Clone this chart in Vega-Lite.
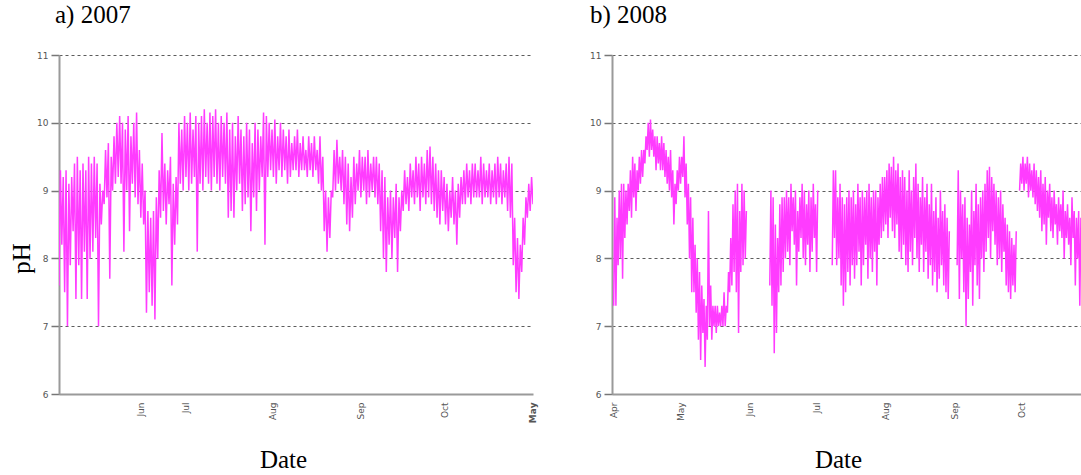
{
"$schema":"https://vega.github.io/schema/vega-lite/v6.json",
"background":"white",
"padding":{"left":9,"top":3,"right":0,"bottom":0},
"spacing":79,
"bounds":"flush",
"config":{
 "view":{"stroke":null},
 "axis":{"labelFont":"DejaVu Sans","labelFontSize":9,"labelColor":"#555","domainColor":"#9a9a9a","domainWidth":2,"tickColor":"#777","tickWidth":1.5,"titleFont":"Liberation Serif","titleFontSize":25,"titleFontWeight":"normal","titleColor":"#000"},
 "title":{"font":"Liberation Serif","fontSize":25,"fontWeight":"normal","anchor":"start","color":"#000"}
},
"hconcat":[
{
 "title":{"text":"a) 2007","frame":"group","dx":-4,"offset":23},
 "width":474,"height":339,
 "data":{"format":{"parse":{"t":"date:'%Y-%m-%d %H'"}},"values":[
{"t":"2007-05-17 06","v":7.6},{"t":"2007-05-17 18","v":9.3},
{"t":"2007-05-18 06","v":8.2},{"t":"2007-05-18 18","v":9.2},
{"t":"2007-05-19 06","v":7.5},{"t":"2007-05-19 18","v":9.3},
{"t":"2007-05-20 06","v":7.0},{"t":"2007-05-20 18","v":9.1},
{"t":"2007-05-21 06","v":7.9},{"t":"2007-05-21 18","v":9.2},
{"t":"2007-05-22 06","v":8.4},{"t":"2007-05-22 18","v":9.4},
{"t":"2007-05-23 06","v":7.4},{"t":"2007-05-23 18","v":9.5},
{"t":"2007-05-24 06","v":7.9},{"t":"2007-05-24 18","v":9.3},
{"t":"2007-05-25 06","v":7.4},{"t":"2007-05-25 18","v":9.4},
{"t":"2007-05-26 06","v":8.1},{"t":"2007-05-26 18","v":9.3},
{"t":"2007-05-27 06","v":7.4},{"t":"2007-05-27 18","v":9.5},
{"t":"2007-05-28 06","v":8.0},{"t":"2007-05-28 18","v":9.4},
{"t":"2007-05-29 06","v":8.1},{"t":"2007-05-29 18","v":9.5},
{"t":"2007-05-30 06","v":8.3},{"t":"2007-05-30 18","v":9.4},
{"t":"2007-05-31 06","v":7.0},{"t":"2007-05-31 18","v":9.1},
{"t":"2007-06-01 06","v":8.5},{"t":"2007-06-01 18","v":9.0},
{"t":"2007-06-02 06","v":8.8},{"t":"2007-06-02 18","v":9.6},
{"t":"2007-06-03 06","v":8.9},{"t":"2007-06-03 18","v":9.7},
{"t":"2007-06-04 06","v":7.7},{"t":"2007-06-04 18","v":9.5},
{"t":"2007-06-05 06","v":9.0},{"t":"2007-06-05 18","v":9.8},
{"t":"2007-06-06 06","v":9.1},{"t":"2007-06-06 18","v":10.0},
{"t":"2007-06-07 06","v":9.2},{"t":"2007-06-07 18","v":10.1},
{"t":"2007-06-08 06","v":9.1},{"t":"2007-06-08 18","v":10.0},
{"t":"2007-06-09 06","v":8.1},{"t":"2007-06-09 18","v":9.9},
{"t":"2007-06-10 06","v":9.0},{"t":"2007-06-10 18","v":10.1},
{"t":"2007-06-11 06","v":8.4},{"t":"2007-06-11 18","v":9.8},
{"t":"2007-06-12 06","v":9.1},{"t":"2007-06-12 18","v":10.0},
{"t":"2007-06-13 06","v":8.9},{"t":"2007-06-13 18","v":10.15},
{"t":"2007-06-14 06","v":8.8},{"t":"2007-06-14 18","v":9.6},
{"t":"2007-06-15 06","v":8.6},{"t":"2007-06-15 18","v":9.4},
{"t":"2007-06-16 06","v":8.5},{"t":"2007-06-16 18","v":9.0},
{"t":"2007-06-17 06","v":7.2},{"t":"2007-06-17 18","v":8.7},
{"t":"2007-06-18 06","v":7.5},{"t":"2007-06-18 18","v":8.6},
{"t":"2007-06-19 06","v":7.3},{"t":"2007-06-19 18","v":8.7},
{"t":"2007-06-20 06","v":7.1},{"t":"2007-06-20 18","v":8.9},
{"t":"2007-06-21 06","v":8.0},{"t":"2007-06-21 18","v":9.3},
{"t":"2007-06-22 06","v":8.6},{"t":"2007-06-22 18","v":9.85},
{"t":"2007-06-23 06","v":8.7},{"t":"2007-06-23 18","v":9.4},
{"t":"2007-06-24 06","v":8.5},{"t":"2007-06-24 18","v":9.3},
{"t":"2007-06-25 06","v":8.8},{"t":"2007-06-25 18","v":9.5},
{"t":"2007-06-26 06","v":7.6},{"t":"2007-06-26 18","v":9.1},
{"t":"2007-06-27 06","v":8.2},{"t":"2007-06-27 18","v":9.2},
{"t":"2007-06-28 06","v":8.5},{"t":"2007-06-28 18","v":10.0},
{"t":"2007-06-29 06","v":9.1},{"t":"2007-06-29 18","v":9.9},
{"t":"2007-06-30 06","v":9.0},{"t":"2007-06-30 18","v":10.1},
{"t":"2007-07-01 06","v":9.2},{"t":"2007-07-01 18","v":10.0},
{"t":"2007-07-02 06","v":9.0},{"t":"2007-07-02 18","v":10.15},
{"t":"2007-07-03 06","v":9.1},{"t":"2007-07-03 18","v":9.9},
{"t":"2007-07-04 06","v":9.2},{"t":"2007-07-04 18","v":10.1},
{"t":"2007-07-05 06","v":8.1},{"t":"2007-07-05 18","v":10.0},
{"t":"2007-07-06 06","v":9.1},{"t":"2007-07-06 18","v":10.1},
{"t":"2007-07-07 06","v":9.0},{"t":"2007-07-07 18","v":10.2},
{"t":"2007-07-08 06","v":9.2},{"t":"2007-07-08 18","v":10.0},
{"t":"2007-07-09 06","v":9.1},{"t":"2007-07-09 18","v":10.15},
{"t":"2007-07-10 06","v":9.0},{"t":"2007-07-10 18","v":10.1},
{"t":"2007-07-11 06","v":9.2},{"t":"2007-07-11 18","v":10.2},
{"t":"2007-07-12 06","v":9.1},{"t":"2007-07-12 18","v":10.0},
{"t":"2007-07-13 06","v":9.0},{"t":"2007-07-13 18","v":10.1},
{"t":"2007-07-14 06","v":9.2},{"t":"2007-07-14 18","v":10.0},
{"t":"2007-07-15 06","v":9.1},{"t":"2007-07-15 18","v":10.15},
{"t":"2007-07-16 06","v":8.6},{"t":"2007-07-16 18","v":9.9},
{"t":"2007-07-17 06","v":8.7},{"t":"2007-07-17 18","v":10.0},
{"t":"2007-07-18 06","v":8.6},{"t":"2007-07-18 18","v":9.8},
{"t":"2007-07-19 06","v":9.0},{"t":"2007-07-19 18","v":10.1},
{"t":"2007-07-20 06","v":9.1},{"t":"2007-07-20 18","v":9.9},
{"t":"2007-07-21 06","v":8.7},{"t":"2007-07-21 18","v":9.8},
{"t":"2007-07-22 06","v":8.8},{"t":"2007-07-22 18","v":10.0},
{"t":"2007-07-23 06","v":8.9},{"t":"2007-07-23 18","v":9.9},
{"t":"2007-07-24 06","v":8.4},{"t":"2007-07-24 18","v":9.7},
{"t":"2007-07-25 06","v":8.9},{"t":"2007-07-25 18","v":10.0},
{"t":"2007-07-26 06","v":8.7},{"t":"2007-07-26 18","v":9.9},
{"t":"2007-07-27 06","v":9.0},{"t":"2007-07-27 18","v":9.8},
{"t":"2007-07-28 06","v":9.2},{"t":"2007-07-28 18","v":10.15},
{"t":"2007-07-29 06","v":8.2},{"t":"2007-07-29 18","v":10.1},
{"t":"2007-07-30 06","v":9.2},{"t":"2007-07-30 18","v":10.0},
{"t":"2007-07-31 06","v":9.3},{"t":"2007-07-31 18","v":9.9},
{"t":"2007-08-01 06","v":9.2},{"t":"2007-08-01 18","v":10.05},
{"t":"2007-08-02 06","v":9.1},{"t":"2007-08-02 18","v":9.8},
{"t":"2007-08-03 06","v":9.3},{"t":"2007-08-03 18","v":10.0},
{"t":"2007-08-04 06","v":9.2},{"t":"2007-08-04 18","v":9.9},
{"t":"2007-08-05 06","v":9.3},{"t":"2007-08-05 18","v":9.8},
{"t":"2007-08-06 06","v":9.1},{"t":"2007-08-06 18","v":9.9},
{"t":"2007-08-07 06","v":9.2},{"t":"2007-08-07 18","v":9.7},
{"t":"2007-08-08 06","v":9.3},{"t":"2007-08-08 18","v":9.8},
{"t":"2007-08-09 06","v":9.3},{"t":"2007-08-09 18","v":9.9},
{"t":"2007-08-10 06","v":9.2},{"t":"2007-08-10 18","v":9.7},
{"t":"2007-08-11 06","v":9.3},{"t":"2007-08-11 18","v":9.8},
{"t":"2007-08-12 06","v":9.3},{"t":"2007-08-12 18","v":9.6},
{"t":"2007-08-13 06","v":9.2},{"t":"2007-08-13 18","v":9.8},
{"t":"2007-08-14 06","v":9.3},{"t":"2007-08-14 18","v":9.7},
{"t":"2007-08-15 06","v":9.2},{"t":"2007-08-15 18","v":9.8},
{"t":"2007-08-16 06","v":9.3},{"t":"2007-08-16 18","v":9.6},
{"t":"2007-08-17 06","v":9.1},{"t":"2007-08-17 18","v":9.8},
{"t":"2007-08-18 06","v":9.0},{"t":"2007-08-18 18","v":9.5},
{"t":"2007-08-19 06","v":8.4},{"t":"2007-08-19 18","v":9.0},
{"t":"2007-08-20 06","v":8.1},{"t":"2007-08-20 18","v":8.9},
{"t":"2007-08-21 06","v":8.3},{"t":"2007-08-21 18","v":9.0},
{"t":"2007-08-22 06","v":8.9},{"t":"2007-08-22 18","v":9.6},
{"t":"2007-08-23 06","v":9.0},{"t":"2007-08-23 18","v":9.75},
{"t":"2007-08-24 06","v":9.1},{"t":"2007-08-24 18","v":9.5},
{"t":"2007-08-25 06","v":9.0},{"t":"2007-08-25 18","v":9.6},
{"t":"2007-08-26 06","v":8.8},{"t":"2007-08-26 18","v":9.5},
{"t":"2007-08-27 06","v":8.5},{"t":"2007-08-27 18","v":9.4},
{"t":"2007-08-28 06","v":8.4},{"t":"2007-08-28 18","v":9.2},
{"t":"2007-08-29 06","v":8.6},{"t":"2007-08-29 18","v":9.5},
{"t":"2007-08-30 06","v":8.8},{"t":"2007-08-30 18","v":9.4},
{"t":"2007-08-31 06","v":9.0},{"t":"2007-08-31 18","v":9.6},
{"t":"2007-09-01 06","v":8.9},{"t":"2007-09-01 18","v":9.5},
{"t":"2007-09-02 06","v":9.0},{"t":"2007-09-02 18","v":9.5},
{"t":"2007-09-03 06","v":8.8},{"t":"2007-09-03 18","v":9.6},
{"t":"2007-09-04 06","v":8.9},{"t":"2007-09-04 18","v":9.4},
{"t":"2007-09-05 06","v":9.0},{"t":"2007-09-05 18","v":9.5},
{"t":"2007-09-06 06","v":8.9},{"t":"2007-09-06 18","v":9.5},
{"t":"2007-09-07 06","v":8.8},{"t":"2007-09-07 18","v":9.4},
{"t":"2007-09-08 06","v":8.4},{"t":"2007-09-08 18","v":9.3},
{"t":"2007-09-09 06","v":8.0},{"t":"2007-09-09 18","v":9.2},
{"t":"2007-09-10 06","v":7.8},{"t":"2007-09-10 18","v":8.9},
{"t":"2007-09-11 06","v":8.2},{"t":"2007-09-11 18","v":9.0},
{"t":"2007-09-12 06","v":8.0},{"t":"2007-09-12 18","v":8.9},
{"t":"2007-09-13 06","v":8.3},{"t":"2007-09-13 18","v":9.1},
{"t":"2007-09-14 06","v":7.8},{"t":"2007-09-14 18","v":8.9},
{"t":"2007-09-15 06","v":8.4},{"t":"2007-09-15 18","v":9.0},
{"t":"2007-09-16 06","v":8.7},{"t":"2007-09-16 18","v":9.3},
{"t":"2007-09-17 06","v":8.8},{"t":"2007-09-17 18","v":9.2},
{"t":"2007-09-18 06","v":8.7},{"t":"2007-09-18 18","v":9.4},
{"t":"2007-09-19 06","v":8.9},{"t":"2007-09-19 18","v":9.3},
{"t":"2007-09-20 06","v":8.8},{"t":"2007-09-20 18","v":9.5},
{"t":"2007-09-21 06","v":8.9},{"t":"2007-09-21 18","v":9.4},
{"t":"2007-09-22 06","v":8.7},{"t":"2007-09-22 18","v":9.5},
{"t":"2007-09-23 06","v":8.9},{"t":"2007-09-23 18","v":9.4},
{"t":"2007-09-24 06","v":8.8},{"t":"2007-09-24 18","v":9.6},
{"t":"2007-09-25 06","v":8.9},{"t":"2007-09-25 18","v":9.65},
{"t":"2007-09-26 06","v":8.8},{"t":"2007-09-26 18","v":9.5},
{"t":"2007-09-27 06","v":8.7},{"t":"2007-09-27 18","v":9.4},
{"t":"2007-09-28 06","v":8.6},{"t":"2007-09-28 18","v":9.3},
{"t":"2007-09-29 06","v":8.5},{"t":"2007-09-29 18","v":9.3},
{"t":"2007-09-30 06","v":8.7},{"t":"2007-09-30 18","v":9.2},
{"t":"2007-10-01 06","v":8.5},{"t":"2007-10-01 18","v":9.1},
{"t":"2007-10-02 06","v":8.4},{"t":"2007-10-02 18","v":9.0},
{"t":"2007-10-03 06","v":8.6},{"t":"2007-10-03 18","v":9.2},
{"t":"2007-10-04 06","v":8.5},{"t":"2007-10-04 18","v":9.0},
{"t":"2007-10-05 06","v":8.2},{"t":"2007-10-05 18","v":9.1},
{"t":"2007-10-06 06","v":8.6},{"t":"2007-10-06 18","v":9.2},
{"t":"2007-10-07 06","v":8.8},{"t":"2007-10-07 18","v":9.3},
{"t":"2007-10-08 06","v":8.8},{"t":"2007-10-08 18","v":9.4},
{"t":"2007-10-09 06","v":8.9},{"t":"2007-10-09 18","v":9.3},
{"t":"2007-10-10 06","v":8.8},{"t":"2007-10-10 18","v":9.4},
{"t":"2007-10-11 06","v":8.9},{"t":"2007-10-11 18","v":9.4},
{"t":"2007-10-12 06","v":8.9},{"t":"2007-10-12 18","v":9.3},
{"t":"2007-10-13 06","v":8.9},{"t":"2007-10-13 18","v":9.5},
{"t":"2007-10-14 06","v":8.8},{"t":"2007-10-14 18","v":9.4},
{"t":"2007-10-15 06","v":8.9},{"t":"2007-10-15 18","v":9.3},
{"t":"2007-10-16 06","v":8.9},{"t":"2007-10-16 18","v":9.4},
{"t":"2007-10-17 06","v":8.8},{"t":"2007-10-17 18","v":9.3},
{"t":"2007-10-18 06","v":8.9},{"t":"2007-10-18 18","v":9.4},
{"t":"2007-10-19 06","v":8.8},{"t":"2007-10-19 18","v":9.5},
{"t":"2007-10-20 06","v":8.9},{"t":"2007-10-20 18","v":9.4},
{"t":"2007-10-21 06","v":8.8},{"t":"2007-10-21 18","v":9.3},
{"t":"2007-10-22 06","v":8.9},{"t":"2007-10-22 18","v":9.4},
{"t":"2007-10-23 06","v":8.7},{"t":"2007-10-23 18","v":9.5},
{"t":"2007-10-24 06","v":8.6},{"t":"2007-10-24 18","v":9.4},
{"t":"2007-10-25 06","v":7.9},{"t":"2007-10-25 18","v":8.6},
{"t":"2007-10-26 06","v":7.5},{"t":"2007-10-26 18","v":8.3},
{"t":"2007-10-27 06","v":7.4},{"t":"2007-10-27 18","v":8.2},
{"t":"2007-10-28 06","v":7.8},{"t":"2007-10-28 18","v":8.6},
{"t":"2007-10-29 06","v":8.2},{"t":"2007-10-29 18","v":8.9},
{"t":"2007-10-30 06","v":8.6},{"t":"2007-10-30 18","v":9.1},
{"t":"2007-10-31 06","v":8.7},{"t":"2007-10-31 18","v":9.2},
{"t":"2007-11-01 06","v":8.8}
 ]},
 "mark":{"type":"line","stroke":"#ff3cff","strokeWidth":1.5,"invalid":"break-paths-filter-domains","clip":true},
 "encoding":{
  "x":{"field":"t","type":"temporal",
   "scale":{"domain":[{"year":2007,"month":5,"date":17,"hours":6},{"year":2007,"month":11,"date":1,"hours":6}]},
   "axis":{"title":"Date","grid":false,"ticks":false,"labelAngle":270,"labelPadding":8,"format":"%b",
    "values":[{"year":2007,"month":6,"date":15},{"year":2007,"month":7,"date":1},{"year":2007,"month":8,"date":1},{"year":2007,"month":9,"date":1},{"year":2007,"month":10,"date":1},{"year":2007,"month":11,"date":1}],
    "labelExpr":"month(datum.value) == 10 ? 'May' : datum.label",
    "labelFontWeight":{"condition":{"test":"month(datum.value) == 10","value":"bold"},"value":"normal"},
    "labelOverlap":false,"labelBound":false,
    "titleX":224,"titleY":65,"titleBaseline":"middle","titleAnchor":"middle"}},
  "y":{"field":"v","type":"quantitative","scale":{"domain":[6,11]},
   "axis":{"title":"pH","values":[6,7,8,9,10,11],"format":"d","grid":true,"gridDash":[3,3],"gridColor":"#333","gridOpacity":0.8,"tickSize":8,"labelPadding":3,
    "titleX":-38,"titleY":203,"titleBaseline":"middle","titleAngle":270}}
 }
},
{
 "title":{"text":"b) 2008","frame":"group","dx":-22,"offset":23},
 "width":469,"height":339,
 "data":{"format":{"parse":{"t":"date:'%Y-%m-%d %H'"}},"values":[
{"t":"2008-04-01 06","v":7.3},{"t":"2008-04-01 18","v":8.9},
{"t":"2008-04-02 06","v":7.3},{"t":"2008-04-02 18","v":8.6},
{"t":"2008-04-03 06","v":7.9},{"t":"2008-04-03 18","v":9.0},
{"t":"2008-04-04 06","v":8.0},{"t":"2008-04-04 18","v":9.1},
{"t":"2008-04-05 06","v":7.7},{"t":"2008-04-05 18","v":9.1},
{"t":"2008-04-06 06","v":8.3},{"t":"2008-04-06 18","v":9.0},
{"t":"2008-04-07 06","v":8.5},{"t":"2008-04-07 18","v":9.1},
{"t":"2008-04-08 06","v":8.7},{"t":"2008-04-08 18","v":9.3},
{"t":"2008-04-09 06","v":8.6},{"t":"2008-04-09 18","v":9.5},
{"t":"2008-04-10 06","v":8.9},{"t":"2008-04-10 18","v":9.4},
{"t":"2008-04-11 06","v":8.7},{"t":"2008-04-11 18","v":9.3},
{"t":"2008-04-12 06","v":9.0},{"t":"2008-04-12 18","v":9.5},
{"t":"2008-04-13 06","v":9.1},{"t":"2008-04-13 18","v":9.6},
{"t":"2008-04-14 06","v":9.2},{"t":"2008-04-14 18","v":9.6},
{"t":"2008-04-15 06","v":9.4},{"t":"2008-04-15 18","v":9.8},
{"t":"2008-04-16 06","v":9.6},{"t":"2008-04-16 18","v":10.0},
{"t":"2008-04-17 06","v":9.5},{"t":"2008-04-17 18","v":10.05},
{"t":"2008-04-18 06","v":9.6},{"t":"2008-04-18 18","v":9.9},
{"t":"2008-04-19 06","v":9.5},{"t":"2008-04-19 18","v":9.8},
{"t":"2008-04-20 06","v":9.3},{"t":"2008-04-20 18","v":9.8},
{"t":"2008-04-21 06","v":9.4},{"t":"2008-04-21 18","v":9.7},
{"t":"2008-04-22 06","v":9.3},{"t":"2008-04-22 18","v":9.8},
{"t":"2008-04-23 06","v":9.3},{"t":"2008-04-23 18","v":9.7},
{"t":"2008-04-24 06","v":9.2},{"t":"2008-04-24 18","v":9.6},
{"t":"2008-04-25 06","v":9.1},{"t":"2008-04-25 18","v":9.5},
{"t":"2008-04-26 06","v":9.0},{"t":"2008-04-26 18","v":9.6},
{"t":"2008-04-27 06","v":8.9},{"t":"2008-04-27 18","v":9.3},
{"t":"2008-04-28 06","v":8.5},{"t":"2008-04-28 18","v":9.1},
{"t":"2008-04-29 06","v":8.8},{"t":"2008-04-29 18","v":9.3},
{"t":"2008-04-30 06","v":9.0},{"t":"2008-04-30 18","v":9.5},
{"t":"2008-05-01 06","v":9.1},{"t":"2008-05-01 18","v":9.5},
{"t":"2008-05-02 06","v":9.2},{"t":"2008-05-02 18","v":9.8},
{"t":"2008-05-03 06","v":8.9},{"t":"2008-05-03 18","v":9.4},
{"t":"2008-05-04 06","v":8.5},{"t":"2008-05-04 18","v":9.1},
{"t":"2008-05-05 06","v":8.0},{"t":"2008-05-05 18","v":8.9},
{"t":"2008-05-06 06","v":7.5},{"t":"2008-05-06 18","v":8.6},
{"t":"2008-05-07 06","v":7.5},{"t":"2008-05-07 18","v":8.2},
{"t":"2008-05-08 06","v":7.2},{"t":"2008-05-08 18","v":8.0},
{"t":"2008-05-09 06","v":6.8},{"t":"2008-05-09 18","v":7.8},
{"t":"2008-05-10 06","v":6.5},{"t":"2008-05-10 18","v":7.6},
{"t":"2008-05-11 06","v":6.9},{"t":"2008-05-11 18","v":7.4},
{"t":"2008-05-12 06","v":6.4},{"t":"2008-05-12 18","v":7.3},
{"t":"2008-05-13 06","v":6.8},{"t":"2008-05-13 18","v":8.7},
{"t":"2008-05-14 06","v":7.0},{"t":"2008-05-14 18","v":7.6},
{"t":"2008-05-15 06","v":6.8},{"t":"2008-05-15 18","v":7.3},
{"t":"2008-05-16 06","v":7.0},{"t":"2008-05-16 18","v":7.3},
{"t":"2008-05-17 06","v":6.9},{"t":"2008-05-17 18","v":7.3},
{"t":"2008-05-18 06","v":7.0},{"t":"2008-05-18 18","v":7.2},
{"t":"2008-05-19 06","v":7.0},{"t":"2008-05-19 18","v":7.3},
{"t":"2008-05-20 06","v":7.0},{"t":"2008-05-20 18","v":7.5},
{"t":"2008-05-21 06","v":7.0},{"t":"2008-05-21 18","v":7.3},
{"t":"2008-05-22 06","v":7.2},{"t":"2008-05-22 18","v":7.8},
{"t":"2008-05-23 06","v":7.5},{"t":"2008-05-23 18","v":8.3},
{"t":"2008-05-24 06","v":7.6},{"t":"2008-05-24 18","v":8.8},
{"t":"2008-05-25 06","v":7.8},{"t":"2008-05-25 18","v":9.0},
{"t":"2008-05-26 06","v":7.5},{"t":"2008-05-26 18","v":9.1},
{"t":"2008-05-27 06","v":6.9},{"t":"2008-05-27 18","v":8.7},
{"t":"2008-05-28 06","v":7.8},{"t":"2008-05-28 18","v":9.1},
{"t":"2008-05-29 06","v":7.9},{"t":"2008-05-29 18","v":9.0},
{"t":"2008-05-30 06","v":8.0},{"t":"2008-05-30 18","v":8.7},
{"t":"2008-05-31 06","v":null},
{"t":"2008-06-10 06","v":7.6},{"t":"2008-06-10 18","v":9.0},
{"t":"2008-06-11 06","v":7.3},{"t":"2008-06-11 18","v":8.9},
{"t":"2008-06-12 06","v":6.6},{"t":"2008-06-12 18","v":8.5},
{"t":"2008-06-13 06","v":6.9},{"t":"2008-06-13 18","v":8.3},
{"t":"2008-06-14 06","v":7.5},{"t":"2008-06-14 18","v":8.8},
{"t":"2008-06-15 06","v":7.6},{"t":"2008-06-15 18","v":8.9},
{"t":"2008-06-16 06","v":7.8},{"t":"2008-06-16 18","v":8.9},
{"t":"2008-06-17 06","v":8.0},{"t":"2008-06-17 18","v":9.0},
{"t":"2008-06-18 06","v":8.1},{"t":"2008-06-18 18","v":8.9},
{"t":"2008-06-19 06","v":7.9},{"t":"2008-06-19 18","v":9.1},
{"t":"2008-06-20 06","v":8.4},{"t":"2008-06-20 18","v":8.9},
{"t":"2008-06-21 06","v":8.2},{"t":"2008-06-21 18","v":9.0},
{"t":"2008-06-22 06","v":7.6},{"t":"2008-06-22 18","v":8.7},
{"t":"2008-06-23 06","v":8.1},{"t":"2008-06-23 18","v":8.9},
{"t":"2008-06-24 06","v":8.3},{"t":"2008-06-24 18","v":9.1},
{"t":"2008-06-25 06","v":8.0},{"t":"2008-06-25 18","v":9.0},
{"t":"2008-06-26 06","v":7.9},{"t":"2008-06-26 18","v":8.8},
{"t":"2008-06-27 06","v":8.2},{"t":"2008-06-27 18","v":9.0},
{"t":"2008-06-28 06","v":7.8},{"t":"2008-06-28 18","v":8.9},
{"t":"2008-06-29 06","v":8.1},{"t":"2008-06-29 18","v":9.1},
{"t":"2008-06-30 06","v":8.3},{"t":"2008-06-30 18","v":8.8},
{"t":"2008-07-01 06","v":7.8},{"t":"2008-07-01 18","v":9.0},
{"t":"2008-07-02 06","v":null},
{"t":"2008-07-08 06","v":7.9},{"t":"2008-07-08 18","v":9.3},
{"t":"2008-07-09 06","v":8.3},{"t":"2008-07-09 18","v":9.3},
{"t":"2008-07-10 06","v":7.9},{"t":"2008-07-10 18","v":8.9},
{"t":"2008-07-11 06","v":8.0},{"t":"2008-07-11 18","v":9.1},
{"t":"2008-07-12 06","v":7.6},{"t":"2008-07-12 18","v":8.9},
{"t":"2008-07-13 06","v":7.3},{"t":"2008-07-13 18","v":8.8},
{"t":"2008-07-14 06","v":7.5},{"t":"2008-07-14 18","v":8.9},
{"t":"2008-07-15 06","v":7.8},{"t":"2008-07-15 18","v":9.0},
{"t":"2008-07-16 06","v":7.6},{"t":"2008-07-16 18","v":8.9},
{"t":"2008-07-17 06","v":7.9},{"t":"2008-07-17 18","v":9.0},
{"t":"2008-07-18 06","v":7.7},{"t":"2008-07-18 18","v":8.8},
{"t":"2008-07-19 06","v":7.9},{"t":"2008-07-19 18","v":9.1},
{"t":"2008-07-20 06","v":8.1},{"t":"2008-07-20 18","v":8.9},
{"t":"2008-07-21 06","v":7.6},{"t":"2008-07-21 18","v":9.0},
{"t":"2008-07-22 06","v":7.9},{"t":"2008-07-22 18","v":8.9},
{"t":"2008-07-23 06","v":8.2},{"t":"2008-07-23 18","v":9.0},
{"t":"2008-07-24 06","v":7.7},{"t":"2008-07-24 18","v":9.1},
{"t":"2008-07-25 06","v":8.0},{"t":"2008-07-25 18","v":8.9},
{"t":"2008-07-26 06","v":7.8},{"t":"2008-07-26 18","v":9.0},
{"t":"2008-07-27 06","v":8.1},{"t":"2008-07-27 18","v":9.0},
{"t":"2008-07-28 06","v":7.6},{"t":"2008-07-28 18","v":8.9},
{"t":"2008-07-29 06","v":8.2},{"t":"2008-07-29 18","v":9.1},
{"t":"2008-07-30 06","v":8.3},{"t":"2008-07-30 18","v":9.2},
{"t":"2008-07-31 06","v":8.4},{"t":"2008-07-31 18","v":9.2},
{"t":"2008-08-01 06","v":8.5},{"t":"2008-08-01 18","v":9.3},
{"t":"2008-08-02 06","v":8.3},{"t":"2008-08-02 18","v":9.4},
{"t":"2008-08-03 06","v":8.6},{"t":"2008-08-03 18","v":9.35},
{"t":"2008-08-04 06","v":8.4},{"t":"2008-08-04 18","v":9.5},
{"t":"2008-08-05 06","v":8.3},{"t":"2008-08-05 18","v":9.3},
{"t":"2008-08-06 06","v":8.5},{"t":"2008-08-06 18","v":9.4},
{"t":"2008-08-07 06","v":8.1},{"t":"2008-08-07 18","v":9.2},
{"t":"2008-08-08 06","v":8.0},{"t":"2008-08-08 18","v":9.3},
{"t":"2008-08-09 06","v":8.2},{"t":"2008-08-09 18","v":9.2},
{"t":"2008-08-10 06","v":7.9},{"t":"2008-08-10 18","v":9.0},
{"t":"2008-08-11 06","v":7.8},{"t":"2008-08-11 18","v":9.3},
{"t":"2008-08-12 06","v":8.1},{"t":"2008-08-12 18","v":9.0},
{"t":"2008-08-13 06","v":7.9},{"t":"2008-08-13 18","v":9.2},
{"t":"2008-08-14 06","v":8.3},{"t":"2008-08-14 18","v":9.4},
{"t":"2008-08-15 06","v":8.0},{"t":"2008-08-15 18","v":9.1},
{"t":"2008-08-16 06","v":7.8},{"t":"2008-08-16 18","v":8.9},
{"t":"2008-08-17 06","v":8.2},{"t":"2008-08-17 18","v":9.2},
{"t":"2008-08-18 06","v":7.8},{"t":"2008-08-18 18","v":8.9},
{"t":"2008-08-19 06","v":8.1},{"t":"2008-08-19 18","v":9.1},
{"t":"2008-08-20 06","v":7.7},{"t":"2008-08-20 18","v":8.8},
{"t":"2008-08-21 06","v":7.9},{"t":"2008-08-21 18","v":9.1},
{"t":"2008-08-22 06","v":7.6},{"t":"2008-08-22 18","v":8.7},
{"t":"2008-08-23 06","v":7.8},{"t":"2008-08-23 18","v":8.9},
{"t":"2008-08-24 06","v":7.5},{"t":"2008-08-24 18","v":8.6},
{"t":"2008-08-25 06","v":7.7},{"t":"2008-08-25 18","v":9.0},
{"t":"2008-08-26 06","v":7.9},{"t":"2008-08-26 18","v":8.7},
{"t":"2008-08-27 06","v":7.6},{"t":"2008-08-27 18","v":8.8},
{"t":"2008-08-28 06","v":7.5},{"t":"2008-08-28 18","v":8.6},
{"t":"2008-08-29 06","v":7.4},{"t":"2008-08-29 18","v":8.4},
{"t":"2008-08-30 06","v":null},
{"t":"2008-09-02 06","v":7.9},{"t":"2008-09-02 18","v":9.3},
{"t":"2008-09-03 06","v":7.4},{"t":"2008-09-03 18","v":9.0},
{"t":"2008-09-04 06","v":8.0},{"t":"2008-09-04 18","v":8.8},
{"t":"2008-09-05 06","v":7.5},{"t":"2008-09-05 18","v":8.9},
{"t":"2008-09-06 06","v":7.0},{"t":"2008-09-06 18","v":8.6},
{"t":"2008-09-07 06","v":7.4},{"t":"2008-09-07 18","v":8.5},
{"t":"2008-09-08 06","v":7.8},{"t":"2008-09-08 18","v":9.0},
{"t":"2008-09-09 06","v":7.3},{"t":"2008-09-09 18","v":8.7},
{"t":"2008-09-10 06","v":7.9},{"t":"2008-09-10 18","v":9.1},
{"t":"2008-09-11 06","v":7.6},{"t":"2008-09-11 18","v":8.8},
{"t":"2008-09-12 06","v":7.4},{"t":"2008-09-12 18","v":8.9},
{"t":"2008-09-13 06","v":8.0},{"t":"2008-09-13 18","v":9.0},
{"t":"2008-09-14 06","v":7.8},{"t":"2008-09-14 18","v":9.1},
{"t":"2008-09-15 06","v":8.1},{"t":"2008-09-15 18","v":9.3},
{"t":"2008-09-16 06","v":8.3},{"t":"2008-09-16 18","v":9.35},
{"t":"2008-09-17 06","v":8.0},{"t":"2008-09-17 18","v":9.2},
{"t":"2008-09-18 06","v":8.4},{"t":"2008-09-18 18","v":9.1},
{"t":"2008-09-19 06","v":8.2},{"t":"2008-09-19 18","v":9.0},
{"t":"2008-09-20 06","v":7.9},{"t":"2008-09-20 18","v":8.9},
{"t":"2008-09-21 06","v":8.0},{"t":"2008-09-21 18","v":9.0},
{"t":"2008-09-22 06","v":7.8},{"t":"2008-09-22 18","v":8.8},
{"t":"2008-09-23 06","v":8.1},{"t":"2008-09-23 18","v":8.6},
{"t":"2008-09-24 06","v":7.6},{"t":"2008-09-24 18","v":8.5},
{"t":"2008-09-25 06","v":7.5},{"t":"2008-09-25 18","v":8.4},
{"t":"2008-09-26 06","v":7.4},{"t":"2008-09-26 18","v":8.3},
{"t":"2008-09-27 06","v":7.6},{"t":"2008-09-27 18","v":8.2},
{"t":"2008-09-28 06","v":7.5},{"t":"2008-09-28 18","v":8.4},
{"t":"2008-09-29 06","v":null},
{"t":"2008-09-30 06","v":9.0},{"t":"2008-09-30 18","v":9.4},
{"t":"2008-10-01 06","v":9.1},{"t":"2008-10-01 18","v":9.5},
{"t":"2008-10-02 06","v":9.0},{"t":"2008-10-02 18","v":9.4},
{"t":"2008-10-03 06","v":9.1},{"t":"2008-10-03 18","v":9.5},
{"t":"2008-10-04 06","v":8.9},{"t":"2008-10-04 18","v":9.4},
{"t":"2008-10-05 06","v":9.0},{"t":"2008-10-05 18","v":9.3},
{"t":"2008-10-06 06","v":8.9},{"t":"2008-10-06 18","v":9.4},
{"t":"2008-10-07 06","v":8.8},{"t":"2008-10-07 18","v":9.3},
{"t":"2008-10-08 06","v":8.7},{"t":"2008-10-08 18","v":9.2},
{"t":"2008-10-09 06","v":8.6},{"t":"2008-10-09 18","v":9.3},
{"t":"2008-10-10 06","v":8.4},{"t":"2008-10-10 18","v":9.1},
{"t":"2008-10-11 06","v":8.5},{"t":"2008-10-11 18","v":9.2},
{"t":"2008-10-12 06","v":8.2},{"t":"2008-10-12 18","v":9.0},
{"t":"2008-10-13 06","v":8.6},{"t":"2008-10-13 18","v":9.1},
{"t":"2008-10-14 06","v":8.4},{"t":"2008-10-14 18","v":8.9},
{"t":"2008-10-15 06","v":8.3},{"t":"2008-10-15 18","v":9.0},
{"t":"2008-10-16 06","v":8.5},{"t":"2008-10-16 18","v":8.8},
{"t":"2008-10-17 06","v":8.2},{"t":"2008-10-17 18","v":8.9},
{"t":"2008-10-18 06","v":8.4},{"t":"2008-10-18 18","v":8.8},
{"t":"2008-10-19 06","v":8.3},{"t":"2008-10-19 18","v":9.0},
{"t":"2008-10-20 06","v":8.0},{"t":"2008-10-20 18","v":8.7},
{"t":"2008-10-21 06","v":8.3},{"t":"2008-10-21 18","v":8.8},
{"t":"2008-10-22 06","v":8.2},{"t":"2008-10-22 18","v":8.6},
{"t":"2008-10-23 06","v":7.9},{"t":"2008-10-23 18","v":8.9},
{"t":"2008-10-24 06","v":8.3},{"t":"2008-10-24 18","v":8.7},
{"t":"2008-10-25 06","v":7.6},{"t":"2008-10-25 18","v":8.6},
{"t":"2008-10-26 06","v":8.0},{"t":"2008-10-26 18","v":8.7},
{"t":"2008-10-27 06","v":7.3},{"t":"2008-10-27 18","v":8.6}
 ]},
 "mark":{"type":"line","stroke":"#ff3cff","strokeWidth":1.5,"invalid":"break-paths-filter-domains","clip":true},
 "encoding":{
  "x":{"field":"t","type":"temporal",
   "scale":{"domain":[{"year":2008,"month":3,"date":31,"hours":12},{"year":2008,"month":10,"date":27,"hours":19}]},
   "axis":{"title":"Date","grid":false,"ticks":false,"labelAngle":270,"labelPadding":8,"format":"%b",
    "values":[{"year":2008,"month":4,"date":1},{"year":2008,"month":5,"date":1},{"year":2008,"month":6,"date":1},{"year":2008,"month":7,"date":1},{"year":2008,"month":8,"date":1},{"year":2008,"month":9,"date":1},{"year":2008,"month":10,"date":1}],
    "labelOverlap":false,"labelBound":false,
    "titleX":226,"titleY":65,"titleBaseline":"middle","titleAnchor":"middle"}},
  "y":{"field":"v","type":"quantitative","scale":{"domain":[6,11]},
   "axis":{"title":null,"values":[6,7,8,9,10,11],"format":"d","grid":true,"gridDash":[3,3],"gridColor":"#333","gridOpacity":0.8,"tickSize":8,"labelPadding":3}}
 }
}
]
}
